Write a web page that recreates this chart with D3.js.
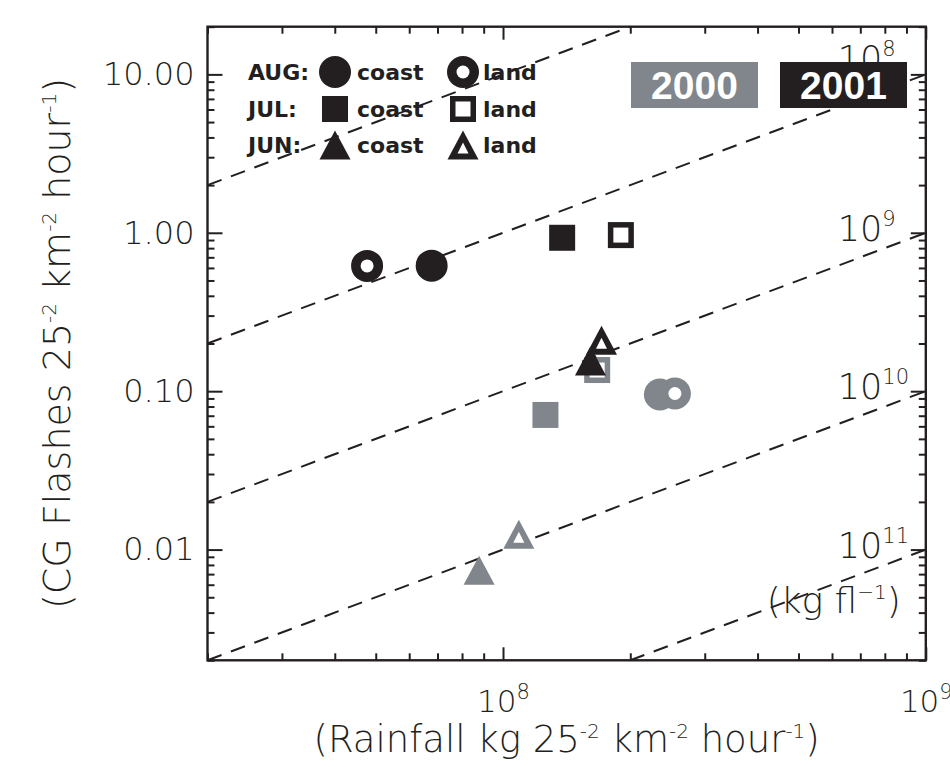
<!DOCTYPE html>
<html lang="en">
<head>
<meta charset="UTF-8">
<title>CG flashes vs rainfall</title>
<script src="https://d3js.org/d3.v7.min.js"></script>
<style>
    body { margin: 0; background: #fff; }
    .thin { font-family: "DejaVu Sans", sans-serif; font-weight: 200; fill: #231f20; }
    .leg { font-family: "DejaVu Sans", sans-serif; font-weight: bold; font-size: 22px; fill: #231f20; }
    .year { font-family: "Liberation Sans", Arial, sans-serif; font-weight: bold; font-size: 39px; fill: #fff; }
</style>
</head>
<body>
<div id="chart"></div>
<script>
// ---- data ----
const months = ["AUG", "JUL", "JUN"];
const shapes = ["circle", "square", "triangle"];
const years = ["2000", "2001"];

// rainfall (kg 25^-2 km^-2 hour^-1), order AUG, JUL, JUN
const rain2000Coast = [2.35e8, 1.26e8, 8.78e7];
const cg2000Coast   = [0.0953, 0.0708, 0.0074];
const rain2000Land  = [2.55e8, 1.67e8, 1.09e8];
const cg2000Land    = [0.0967, 0.136, 0.0125];
const rain2001Coast = [6.78e7, 1.38e8, 1.61e8];
const cg2001Coast   = [0.62, 0.93, 0.155];
const rain2001Land  = [4.77e7, 1.90e8, 1.71e8];
const cg2001Land    = [0.618, 0.967, 0.21];

// kg per flash reference lines
const ratioLines = [1e7, 1e8, 1e9, 1e10, 1e11];
const ratioLabelExps = [8, 9, 10, 11];

const xMajor = [1e8, 1e9];
const xMajorExps = [8, 9];
const yMajor = [0.01, 0.1, 1, 10];
const yMajorLabels = ["0.01", "0.10", "1.00", "10.00"];

const colors = {"2000": "#80868b", "2001": "#231f20"};

// ---- layout ----
var W = 950, H = 767;
var margin = {top: 26.7, left: 207.5, right: 950 - 925.8, bottom: 767 - 660.3};
var width = W - margin.left - margin.right,
    height = H - margin.top - margin.bottom;

var svg = d3.select("#chart").append("svg")
    .attr("width", W).attr("height", H);
var g = svg.append("g")
    .attr("transform", "translate(" + margin.left + "," + margin.top + ")");

var x = d3.scaleLog().domain([2e7, 1e9]).range([0, width]);
var y = d3.scaleLog().domain([0.002, 20]).range([height, 0]);

function minors(scale) {
    var d = scale.domain(), out = [];
    for (var e = Math.floor(Math.log10(d[0])); e <= Math.ceil(Math.log10(d[1])); e++) {
        for (var k = 2; k <= 9; k++) {
            var v = k * Math.pow(10, e);
            if (v >= d[0] * 0.999 && v <= d[1] * 1.001) out.push(v);
        }
    }
    return out;
}

function tickStyle(sel) {
    sel.select(".domain").remove();
    sel.selectAll(".tick line").attr("stroke", "#231f20").attr("stroke-width", 2);
}

// minor ticks, all four sides, pointing inward
g.append("g").attr("transform", "translate(0," + height + ")")
    .call(d3.axisBottom(x).tickValues(minors(x)).tickSize(-7).tickFormat("")).call(tickStyle);
g.append("g")
    .call(d3.axisTop(x).tickValues(minors(x)).tickSize(-7).tickFormat("")).call(tickStyle);
g.append("g")
    .call(d3.axisLeft(y).tickValues(minors(y)).tickSize(-7).tickFormat("")).call(tickStyle);
g.append("g").attr("transform", "translate(" + width + ",0)")
    .call(d3.axisRight(y).tickValues(minors(y)).tickSize(-7).tickFormat("")).call(tickStyle);

// major ticks
var xb = g.append("g").attr("transform", "translate(0," + height + ")")
    .call(d3.axisBottom(x).tickValues(xMajor).tickSize(-13).tickFormat(""))
    .call(tickStyle);
g.append("g")
    .call(d3.axisTop(x).tickValues(xMajor).tickSize(-13).tickFormat("")).call(tickStyle);
var yl = g.append("g")
    .call(d3.axisLeft(y).tickValues(yMajor).tickSize(-15).tickPadding(13)
        .tickFormat(function(d, i) { return yMajorLabels[i]; }))
    .call(tickStyle);
g.append("g").attr("transform", "translate(" + width + ",0)")
    .call(d3.axisRight(y).tickValues(yMajor).tickSize(-15).tickFormat("")).call(tickStyle);

yl.selectAll(".tick text")
    .attr("class", "thin").style("font-size", "32px").attr("font-family", null).attr("font-size", null)
    .attr("fill", null);

xb.selectAll(".tick").each(function(d, i) {
    var t = d3.select(this).append("text").attr("class", "thin")
        .attr("text-anchor", "middle").attr("y", 52).style("font-size", "31px");
    t.append("tspan").text("10");
    t.append("tspan").attr("dy", -13).style("font-size", "21px").text(xMajorExps[i]);
});

// frame
g.append("rect").attr("width", width).attr("height", height)
    .attr("fill", "none").attr("stroke", "#231f20").attr("stroke-width", 2.4);

// axis titles: text pieces with superscripts
function supText(t, parts, rise, supSize) {
    var shifted = false;
    parts.forEach(function(p) {
        var ts = t.append("tspan").text(p.s);
        if (p.sup) {
            ts.attr("dy", -rise).style("font-size", supSize + "px");
            shifted = true;
        } else if (shifted) {
            ts.attr("dy", rise);
            shifted = false;
        }
    });
}
var xt = svg.append("text").attr("class", "thin").style("font-size", "37px")
    .attr("text-anchor", "middle")
    .attr("x", margin.left + width / 2).attr("y", 752);
supText(xt, [{s: "(Rainfall kg 25"}, {s: "-2", sup: true}, {s: " km"}, {s: "-2", sup: true},
    {s: " hour"}, {s: "-1", sup: true}, {s: ")"}], 14, 20);

var yt = svg.append("text").attr("class", "thin").style("font-size", "38px")
    .attr("text-anchor", "middle")
    .attr("transform", "translate(70," + (margin.top + height / 2) + ") rotate(-90)");
supText(yt, [{s: "(CG Flashes 25"}, {s: "-2", sup: true}, {s: " km"}, {s: "-2", sup: true},
    {s: " hour"}, {s: "-1", sup: true}, {s: ")"}], 14, 20);

// ---- markers ----
function triPath(w, h) {
    return "M0," + (-h / 2) + "L" + (w / 2) + "," + (h / 2) + "L" + (-w / 2) + "," + (h / 2) + "Z";
}
function marker(parent, shape, cx, cy, open, color) {
    var m = parent.append("g").attr("transform", "translate(" + cx + "," + cy + ")");
    if (shape === "circle") {
        m.append("circle").attr("r", 16).attr("fill", color);
        if (open) m.append("circle").attr("r", 6.5).attr("fill", "#fff");
    } else if (shape === "square") {
        m.append("rect").attr("x", -13).attr("y", -13).attr("width", 26).attr("height", 26).attr("fill", color);
        if (open) m.append("rect").attr("x", -7.5).attr("y", -7.5).attr("width", 15).attr("height", 15).attr("fill", "#fff");
    } else {
        m.append("path").attr("d", triPath(31, 29)).attr("fill", color);
        if (open) m.append("path").attr("transform", "translate(0,3)").attr("d", triPath(11, 11)).attr("fill", "#fff");
    }
}

// legend
var legRowY = [72, 109, 145];
var leg = svg.append("g");
months.forEach(function(m, i) {
    leg.append("text").attr("class", "leg").attr("x", 248).attr("y", legRowY[i] + 8).text(m + ":");
    marker(leg, shapes[i], 335, legRowY[i], false, "#231f20");
    leg.append("text").attr("class", "leg").attr("x", 357).attr("y", legRowY[i] + 8).text("coast");
    marker(leg, shapes[i], 463, legRowY[i], true, "#231f20");
    leg.append("text").attr("class", "leg").attr("x", 483).attr("y", legRowY[i] + 8).text("land");
});

// reference lines: flashes = rain / ratio
var xd = x.domain(), yd = y.domain();
var lineG = g.append("g");
ratioLines.forEach(function(r) {
    var x0 = Math.max(xd[0], yd[0] * r), x1 = Math.min(xd[1], yd[1] * r);
    if (x1 <= x0) return;
    lineG.append("line")
        .attr("x1", x(x0)).attr("y1", y(x0 / r))
        .attr("x2", x(x1)).attr("y2", y(x1 / r))
        .attr("stroke", "#231f20").attr("stroke-width", 2).attr("stroke-dasharray", "15,10");
});

var labelShift = [-3, 8, 8, 8];
ratioLabelExps.forEach(function(e, i) {
    var yy = y(xd[1] / Math.pow(10, e)) + labelShift[i];
    var t = g.append("text").attr("class", "thin").style("font-size", "35px")
        .attr("x", width - 88).attr("y", yy);
    t.append("tspan").text("10");
    t.append("tspan").attr("dy", -15).style("font-size", "21px").text(e);
    if (e === 11) {
        var k = g.append("text").attr("class", "thin").style("font-size", "36px")
            .attr("text-anchor", "end").attr("x", width - 25).attr("y", yy + 55);
        k.append("tspan").text("(kg fl");
        k.append("tspan").attr("dy", -14).style("font-size", "20px").text("\u22121");
        k.append("tspan").attr("dy", 14).text(")");
    }
});

// data points
var series = [
    {year: "2000", open: false, rain: rain2000Coast, cg: cg2000Coast},
    {year: "2000", open: true,  rain: rain2000Land,  cg: cg2000Land},
    {year: "2001", open: false, rain: rain2001Coast, cg: cg2001Coast},
    {year: "2001", open: true,  rain: rain2001Land,  cg: cg2001Land}
];
var ptG = g.append("g");
series.forEach(function(s) {
    s.rain.forEach(function(v, i) {
        marker(ptG, shapes[i], x(v), y(s.cg[i]), s.open, colors[s.year]);
    });
});

// year boxes
var boxX = [631, 780];
years.forEach(function(yr, i) {
    svg.append("rect").attr("x", boxX[i]).attr("y", 62).attr("width", 127).attr("height", 46)
        .attr("fill", colors[yr]);
    svg.append("text").attr("class", "year").attr("text-anchor", "middle")
        .attr("x", boxX[i] + 63.5).attr("y", 99).text(yr);
});
</script>
</body>
</html>
